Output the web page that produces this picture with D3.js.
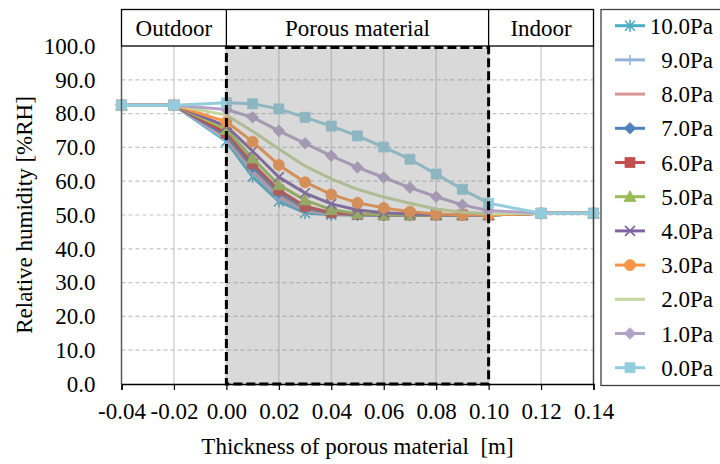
<!DOCTYPE html>
<html><head><meta charset="utf-8">
<script src="https://cdn.jsdelivr.net/npm/d3@7"></script>
<style>
body{margin:0;background:#fff}
svg text{font-family:"Liberation Serif","Times New Roman","DejaVu Serif",serif !important;fill:#000}
</style>
</head><body>
<svg id="c" width="720" height="464"></svg>
<script>
// ---------- data ----------
const thickness = [-0.04, -0.02, 0.00, 0.01, 0.02, 0.03, 0.04, 0.05, 0.06, 0.07, 0.08, 0.09, 0.10, 0.12, 0.14];
const xTicks = [-0.04, -0.02, 0.00, 0.02, 0.04, 0.06, 0.08, 0.10, 0.12, 0.14];
const yTicks = [0, 10, 20, 30, 40, 50, 60, 70, 80, 90, 100];
const seriesNames = ["10.0Pa", "9.0Pa", "8.0Pa", "7.0Pa", "6.0Pa", "5.0Pa", "4.0Pa", "3.0Pa", "2.0Pa", "1.0Pa", "0.0Pa"];
const rh10 = [82.5, 82.5, 71.8, 61.3, 54.0, 50.6, 50.1, 50.0, 50.0, 50.0, 50.0, 50.0, 50.0, 50.5, 50.5];
const rh9  = [82.5, 82.5, 72.3, 62.5, 55.0, 51.2, 50.2, 50.0, 50.0, 50.0, 50.0, 50.0, 50.0, 50.5, 50.5];
const rh8  = [82.5, 82.5, 72.9, 63.5, 55.8, 51.6, 50.3, 50.0, 50.0, 50.0, 50.0, 50.0, 50.0, 50.5, 50.5];
const rh7  = [82.5, 82.5, 73.5, 64.3, 56.6, 52.1, 50.5, 50.1, 50.0, 50.0, 50.0, 50.0, 50.0, 50.5, 50.5];
const rh6  = [82.5, 82.5, 74.3, 65.2, 57.4, 52.6, 50.7, 50.2, 50.0, 50.0, 50.0, 50.0, 50.0, 50.5, 50.5];
const rh5  = [82.5, 82.5, 75.3, 66.8, 58.9, 54.4, 51.6, 50.4, 50.1, 50.0, 50.0, 50.0, 50.0, 50.5, 50.5];
const rh4  = [82.5, 82.5, 76.3, 68.9, 61.2, 56.5, 53.3, 51.5, 50.7, 50.3, 50.1, 50.0, 50.0, 50.5, 50.5];
const rh3  = [82.5, 82.5, 77.6, 71.7, 64.8, 59.7, 56.1, 53.6, 52.1, 51.0, 50.3, 50.1, 50.0, 50.5, 50.5];
const rh2  = [82.5, 82.5, 79.6, 74.8, 69.5, 64.5, 60.7, 57.6, 55.3, 53.5, 51.8, 50.8, 50.4, 50.5, 50.5];
const rh1  = [82.5, 82.5, 81.2, 78.9, 74.9, 71.2, 67.5, 64.1, 61.1, 58.1, 55.4, 53.0, 51.3, 50.5, 50.5];
const rh0  = [82.5, 82.5, 83.2, 82.9, 81.4, 78.9, 76.3, 73.4, 70.1, 66.5, 62.1, 57.6, 53.5, 50.5, 50.5];
const regionNames = ["Outdoor", "Porous material", "Indoor"];
const regionBounds = [-0.04, 0.00, 0.10, 0.14];

// ---------- styles ----------
const seriesValues = [rh10, rh9, rh8, rh7, rh6, rh5, rh4, rh3, rh2, rh1, rh0];
const colors = ["#4BACC6", "#95B3D7", "#D99694", "#4F81BD", "#C0504D", "#9BBB59", "#8064A2", "#F79646", "#C3D69B", "#B3A2C7", "#93CDDD"];
const markers = ["star", "plus", "none", "diamond", "square", "triangle", "x", "circle", "none", "diamond", "square"];
const SERIF = '"Liberation Serif","Times New Roman","DejaVu Serif",serif';

const svg = d3.select("#c");
const x = d3.scaleLinear().domain([-0.04, 0.14]).range([121.5, 593.5]);
const y = d3.scaleLinear().domain([0, 100]).range([384, 46]);
const FONT = 23;

function txt(sel) { return sel.style("font-family", SERIF); }

// grid
const g = svg.append("g");
g.selectAll(".vg").data(xTicks.slice(1, -1)).enter().append("line")
  .attr("x1", d => x(d)).attr("x2", d => x(d)).attr("y1", y(100)).attr("y2", y(0))
  .attr("stroke", "#D4D4D4").attr("stroke-width", 1.5);
g.selectAll(".hg").data(yTicks.slice(1, -1)).enter().append("line")
  .attr("x1", x(-0.04)).attr("x2", x(0.14)).attr("y1", d => y(d)).attr("y2", d => y(d))
  .attr("stroke", "#C4C4C4").attr("stroke-width", 1.2).attr("stroke-dasharray", "4,3");

// marker path
function markerPath(type, r) {
  switch (type) {
    case "square": return `M${-r},${-r}H${r}V${r}H${-r}Z`;
    case "diamond": return `M0,${-r}L${r},0L0,${r}L${-r},0Z`;
    case "triangle": return `M0,${-r}L${r},${r*0.8}L${-r},${r*0.8}Z`;
    case "circle": return d3.arc()({innerRadius:0, outerRadius:r, startAngle:0, endAngle:2*Math.PI});
    case "x": return `M${-r},${-r}L${r},${r}M${-r},${r}L${r},${-r}`;
    case "plus": return `M${-r},0L${r},0M0,${-r}L0,${r}`;
    case "star": return `M${-r},${-r}L${r},${r}M${-r},${r}L${r},${-r}M0,${-r*1.2}L0,${r*1.2}`;
  }
  return "";
}
const markerR = {square:5, diamond:5.8, triangle:6, circle:5.5, x:5, plus:5, star:5};
const filled = {square:true, diamond:true, triangle:true, circle:true};

function drawMarker(sel, type, color, cx, cy) {
  if (type === "none") return;
  const p = sel.append("path").attr("d", markerPath(type, markerR[type]))
    .attr("transform", `translate(${cx},${cy})`);
  if (filled[type]) p.attr("fill", color).attr("stroke", color).attr("stroke-width", 0.8);
  else p.attr("fill", "none").attr("stroke", color).attr("stroke-width", 1.6);
}

// series
const line = d3.line().x(d => x(d[0])).y(d => y(d[1]));
seriesValues.forEach((vals, i) => {
  const pts = thickness.map((t, k) => [t, vals[k]]);
  const sg = svg.append("g");
  sg.append("path").attr("d", line(pts)).attr("fill", "none")
    .attr("stroke", colors[i]).attr("stroke-width", 3).attr("stroke-linejoin", "round");
  pts.forEach(p => drawMarker(sg, markers[i], colors[i], x(p[0]), y(p[1])));
});

// porous material overlay
svg.append("rect").attr("x", x(0)).attr("y", y(100) + 1.5)
  .attr("width", x(0.10) - x(0)).attr("height", y(0) - y(100) - 1.5)
  .attr("fill", "#808080").attr("fill-opacity", 0.3);
svg.append("rect").attr("x", x(0)).attr("y", y(100) + 1.5)
  .attr("width", x(0.10) - x(0)).attr("height", y(0) - y(100) - 1.5)
  .attr("fill", "none").attr("stroke", "#000").attr("stroke-width", 3).attr("stroke-dasharray", "9,4");

// plot frame
svg.append("line").attr("x1", x(-0.04)).attr("x2", x(-0.04)).attr("y1", y(100)).attr("y2", y(0)).attr("stroke", "#595959").attr("stroke-width", 1.5);
svg.append("line").attr("x1", x(0.14)).attr("x2", x(0.14)).attr("y1", y(100)).attr("y2", y(0)).attr("stroke", "#404040").attr("stroke-width", 1.5);

// x axis
const xAxis = d3.axisBottom(x).tickValues(xTicks).tickSize(6).tickFormat(d => d3.format(".2f")(d).replace("\u2212", "-"));
const xa = svg.append("g").attr("transform", `translate(0,${y(0)})`).call(xAxis);
xa.attr("font-family", null);
xa.select(".domain").attr("stroke", "#000").attr("stroke-width", 1.5);
xa.selectAll(".tick line").attr("stroke", "#000").attr("stroke-width", 1.2);
txt(xa.selectAll(".tick text").attr("font-size", FONT).attr("dy", "1.15em"));

// y axis
const yAxis = d3.axisLeft(y).tickValues(yTicks).tickSize(0).tickPadding(26).tickFormat(d3.format(".1f"));
const ya = svg.append("g").attr("transform", `translate(${x(-0.04)},0)`).call(yAxis);
ya.attr("font-family", null);
ya.select(".domain").remove();
txt(ya.selectAll(".tick text").attr("font-size", FONT));

// titles
txt(svg.append("text").attr("x", (x(-0.04) + x(0.14)) / 2).attr("y", 454).attr("text-anchor", "middle")
  .attr("font-size", FONT).attr("xml:space", "preserve").text("Thickness of porous material  [m]"));
txt(svg.append("text").attr("transform", `translate(32,${(y(0)+y(100))/2}) rotate(-90)`).attr("text-anchor", "middle")
  .attr("font-size", FONT).text("Relative humidity [%RH]"));

// header
const hTop = 9.5, hBot = y(100);
svg.append("rect").attr("x", x(-0.04)).attr("y", hTop).attr("width", x(0.14) - x(-0.04)).attr("height", hBot - hTop)
  .attr("fill", "none").attr("stroke", "#000").attr("stroke-width", 1.3);
[0.00, 0.10].forEach(v => svg.append("line").attr("x1", x(v)).attr("x2", x(v)).attr("y1", hTop).attr("y2", hBot)
  .attr("stroke", "#000").attr("stroke-width", 1.3));
regionNames.forEach((n, i) => {
  txt(svg.append("text").attr("x", (x(regionBounds[i]) + x(regionBounds[i+1])) / 2).attr("y", (hTop + hBot) / 2)
    .attr("dy", "0.35em").attr("text-anchor", "middle").attr("font-size", FONT).text(n));
});

// legend
const lg = svg.append("g");
lg.append("rect").attr("x", 601).attr("y", 9.5).attr("width", 130).attr("height", 376)
  .attr("fill", "#fff").attr("stroke", "#404040").attr("stroke-width", 1.3);
seriesNames.forEach((n, i) => {
  const cy = 25.7 + i * 34.2;
  lg.append("line").attr("x1", 615).attr("x2", 645).attr("y1", cy).attr("y2", cy)
    .attr("stroke", colors[i]).attr("stroke-width", 3);
  drawMarker(lg, markers[i], colors[i], 630, cy);
  txt(lg.append("text").attr("x", 713).attr("y", cy).attr("dy", "0.35em").attr("text-anchor", "end")
    .attr("font-size", FONT).text(n));
});
</script>
</body></html>
